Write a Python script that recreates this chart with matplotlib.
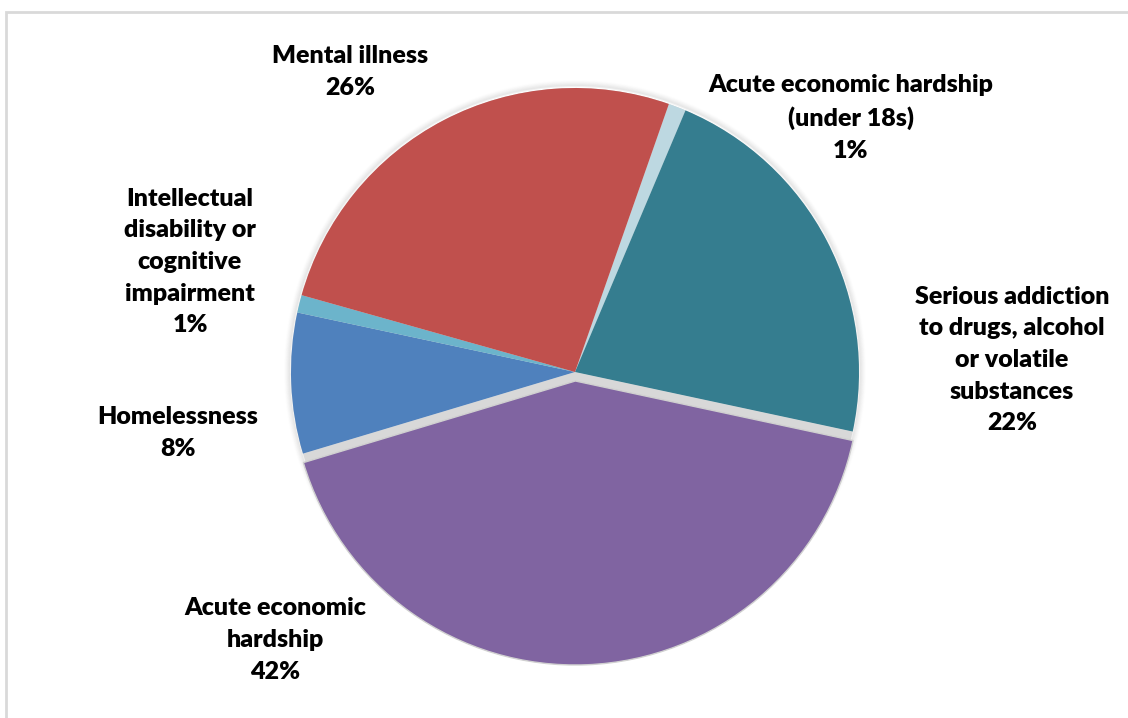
# -*- coding: utf-8 -*-
# pie of main reasons, purple slice pulled out a bit
import numpy as np
import matplotlib
matplotlib.use('Agg')
import matplotlib.pyplot as plt
from matplotlib.patches import Circle, Rectangle

labels = ['Acute economic hardship\n(under 18s)',
          'Serious addiction\nto drugs, alcohol\nor volatile\nsubstances',
          'Acute economic\nhardship',
          'Homelessness',
          'Intellectual\ndisability or\ncognitive\nimpairment',
          'Mental illness']
pct = [1, 22, 42, 8, 1, 26]
colors = ['#BDD8E1', '#357D8F', '#8064A1', '#4F81BD', '#6CB4CB', '#C0504D']
explode_on = [0, 0, 1, 0, 0, 0]

# label centres in pixel coords (x, y from top)
lab_xy = [(851, 118), (1012, 360), (275, 640), (178, 433), (190, 262), (350, 72)]

W, H = 1128, 718
cx, cy, R = 575, H - 372, 284
first_angle = 19.3   # angle of first slice, clockwise from 12 o'clock

plt.rcParams['font.family'] = ['Lato', 'DejaVu Sans']
fig = plt.figure(figsize=(W/100, H/100), dpi=100)
ax = fig.add_axes([0, 0, 1, 1])

# chart frame
ax.add_patch(Rectangle((6, -20), W + 40, H - 12 + 20, fill=False, ec='#D9D9D9', lw=2))

# soft halo round the pie
for k in range(6):
    ax.add_patch(Circle((cx, cy + 1), R + 1 + k, fc='none', ec='#000000', lw=1.5,
                        alpha=0.05 * (6 - k) / 6, zorder=1))

# explode is in data units here (pixels), not a fraction of R
expl = [9 * e for e in explode_on]
# grey underlay so the gap left by the pulled slice shows as shadow
ax.pie(pct, colors=['#D8D8D8'] * len(pct), startangle=90 - first_angle,
       counterclock=False, center=(cx, cy), radius=R,
       wedgeprops=dict(lw=0, zorder=2), frame=True)
wedges, _ = ax.pie(pct, colors=colors, startangle=90 - first_angle,
                   counterclock=False, center=(cx, cy), radius=R, explode=expl,
                   wedgeprops=dict(lw=0.6, ec='none'), frame=True)
for w, e in zip(wedges, explode_on):
    w.set_zorder(4 if e else 3)
    if e:
        w.set_edgecolor('#D0D0D0')
        w.set_linewidth(1.0)

ax.set_xlim(0, W)
ax.set_ylim(0, H)
ax.set_aspect('equal')
ax.axis('off')

for lab, p, (x, y) in zip(labels, pct, lab_xy):
    ax.text(x, H - y, f'{lab}\n{p}%', ha='center', va='center', fontsize=18,
            fontweight='heavy', color='#000000', linespacing=1.53)

fig.savefig('out.png', dpi=100)
